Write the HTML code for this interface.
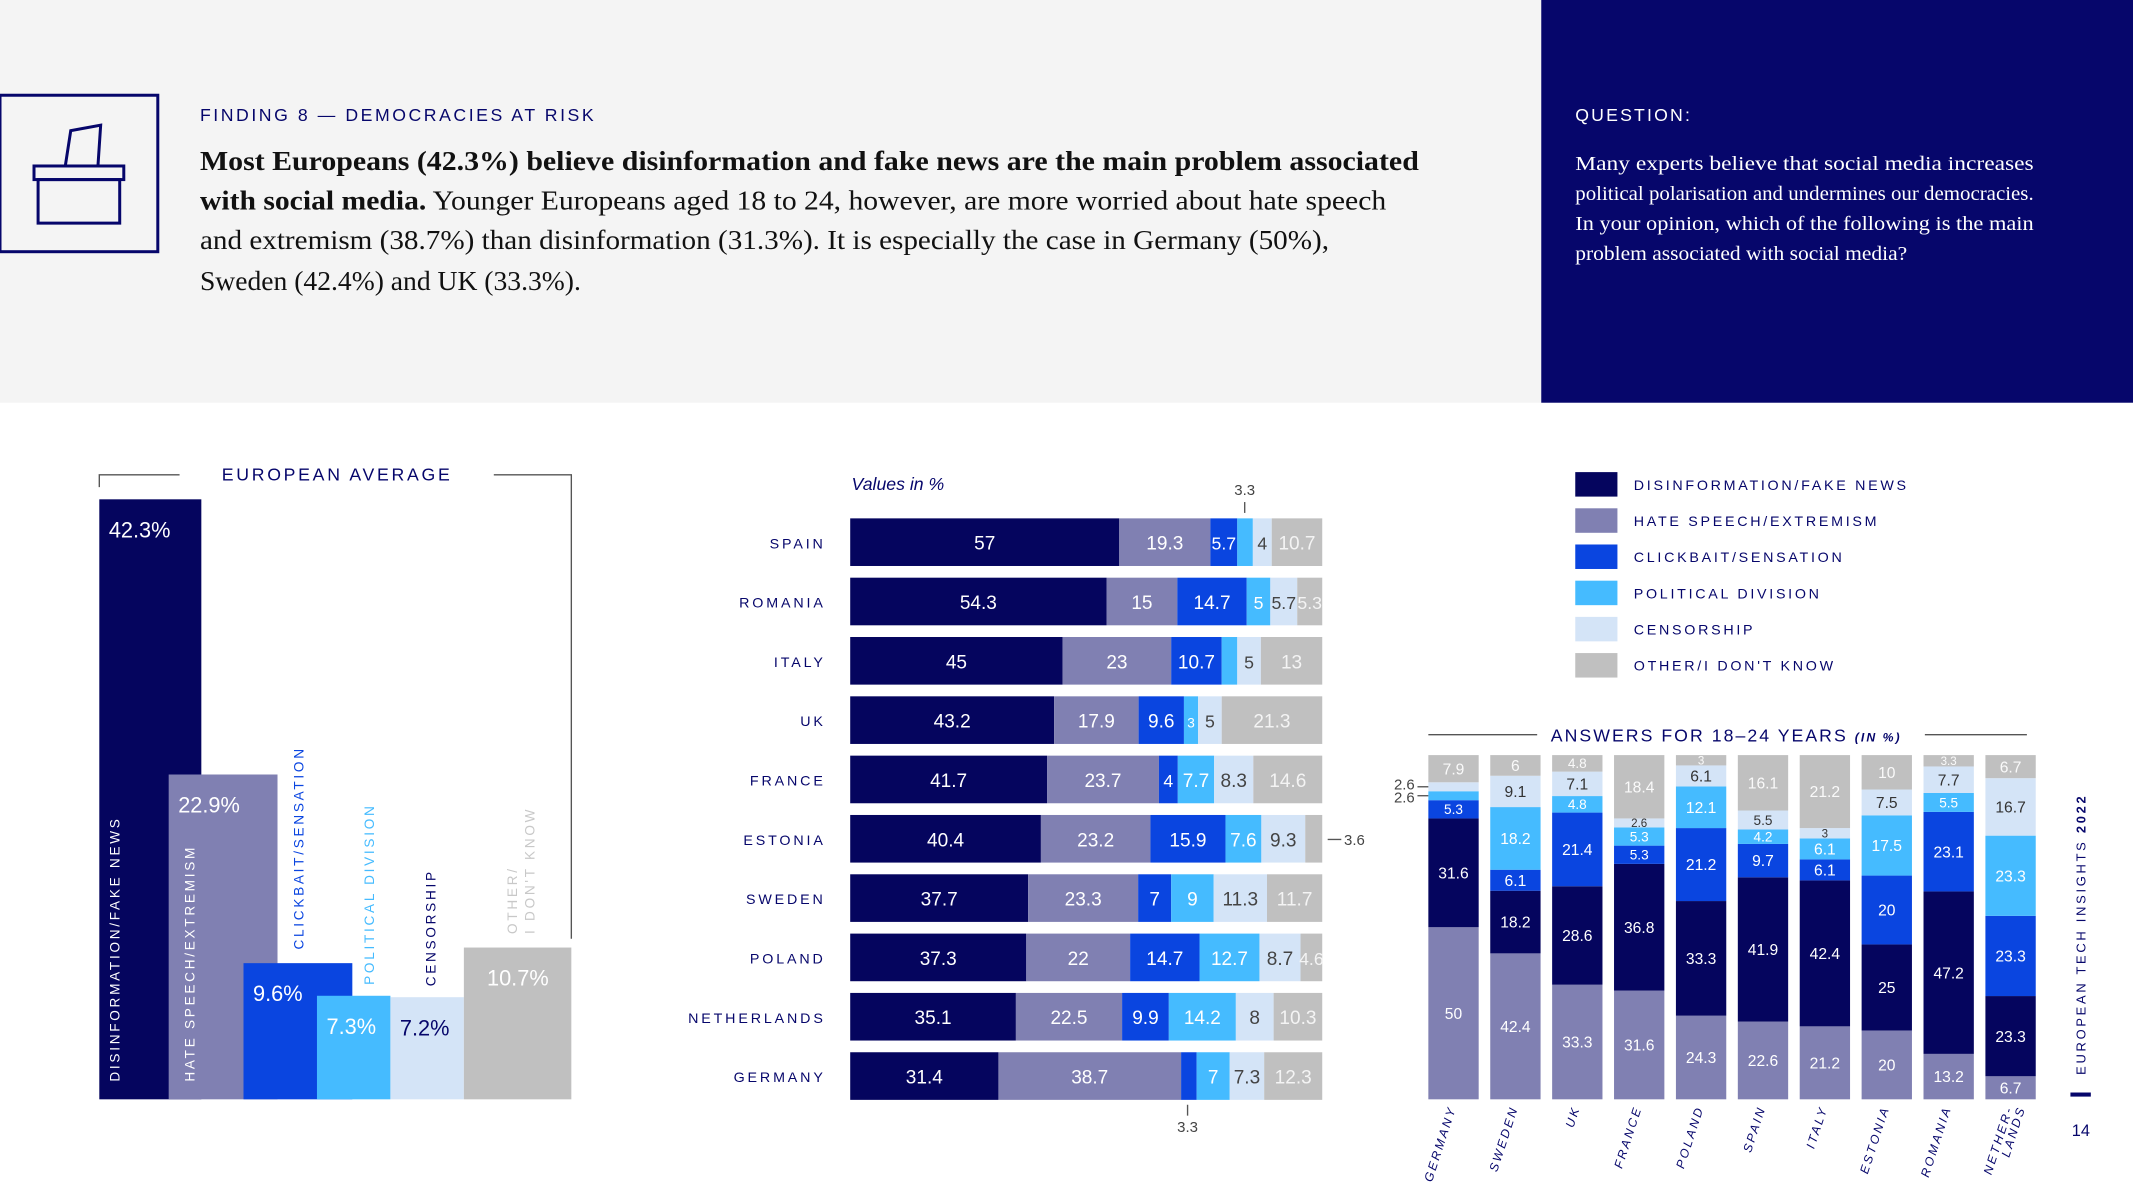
<!DOCTYPE html>
<html><head><meta charset="utf-8"><style>
html,body{margin:0;padding:0;background:#fff;}
svg{display:block;font-family:"Liberation Sans",sans-serif;}
.serif{font-family:"Liberation Serif",serif;}
</style></head><body>
<svg id="s" width="2133" height="1200" viewBox="0 0 1568 882" preserveAspectRatio="none" xmlns="http://www.w3.org/2000/svg">
<rect x="0" y="0" width="1133" height="296" fill="#f4f4f4"/>
<rect x="1133" y="0" width="435" height="296" fill="#06066b"/>
<g fill="none" stroke="#06066b" stroke-width="2.2">
<rect x="0" y="70" width="116" height="115"/>
<rect x="28" y="132" width="60" height="32"/>
<rect x="25" y="122" width="66" height="10"/>
<path d="M48 122 L52 96 L74 92 L72 122"/>
</g>
<text x="147" y="89" font-size="13" letter-spacing="1.6" textLength="291" fill="#06066b">FINDING 8 — DEMOCRACIES AT RISK</text>
<g class="serif" font-size="20" fill="#111">
<text x="147" y="125" font-weight="bold" textLength="896" lengthAdjust="spacingAndGlyphs">Most Europeans (42.3%) believe disinformation and fake news are the main problem associated</text>
<text x="147" y="154" textLength="872" lengthAdjust="spacingAndGlyphs"><tspan font-weight="bold">with social media.</tspan> Younger Europeans aged 18 to 24, however, are more worried about hate speech</text>
<text x="147" y="183" textLength="830" lengthAdjust="spacingAndGlyphs">and extremism (38.7%) than disinformation (31.3%). It is especially the case in Germany (50%),</text>
<text x="147" y="213" textLength="280" lengthAdjust="spacingAndGlyphs">Sweden (42.4%) and UK (33.3%).</text>
</g>
<text x="1158" y="89" font-size="13" letter-spacing="1.6" fill="#fff">QUESTION:</text>
<g class="serif" font-size="14.5" fill="#fff">
<text x="1158" y="125" textLength="337" lengthAdjust="spacingAndGlyphs">Many experts believe that social media increases</text>
<text x="1158" y="147" textLength="337" lengthAdjust="spacingAndGlyphs">political polarisation and undermines our democracies.</text>
<text x="1158" y="169" textLength="337" lengthAdjust="spacingAndGlyphs">In your opinion, which of the following is the main</text>
<text x="1158" y="191" textLength="244" lengthAdjust="spacingAndGlyphs">problem associated with social media?</text>
</g>
<g id="left"></g>
<g id="mid"></g>
<g id="right"></g>
<text transform="translate(1533,790) rotate(-90)" font-size="9.5" letter-spacing="2" fill="#06066b">EUROPEAN TECH INSIGHTS <tspan font-weight="bold">2022</tspan></text>
<rect x="1522" y="803" width="15" height="3" fill="#06066b"/>
<text x="1523" y="835" font-size="12" fill="#06066b">14</text>
</svg>
<script>
const NS="http://www.w3.org/2000/svg";
const COLORS=["#05055e","#8080b2","#0a45e0","#45bbff","#d4e4f7","#c0c0c0"];
const avgCats=["DISINFORMATION/FAKE NEWS","HATE SPEECH/EXTREMISM","CLICKBAIT/SENSATION","POLITICAL DIVISION","CENSORSHIP","OTHER/ I DON'T KNOW"];
const avgVals=[42.3,22.9,9.6,7.3,7.2,10.7];
const countries=["SPAIN","ROMANIA","ITALY","UK","FRANCE","ESTONIA","SWEDEN","POLAND","NETHERLANDS","GERMANY"];
const disinfo=[57,54.3,45,43.2,41.7,40.4,37.7,37.3,35.1,31.4];
const hate=[19.3,15,23,17.9,23.7,23.2,23.3,22,22.5,38.7];
const clickbait=[5.7,14.7,10.7,9.6,4,15.9,7,14.7,9.9,3.3];
const political=[3.3,5,3.3,3,7.7,7.6,9,12.7,14.2,7];
const censorship=[4,5.7,5,5,8.3,9.3,11.3,8.7,8,7.3];
const other=[10.7,5.3,13,21.3,14.6,3.6,11.7,4.6,10.3,12.3];
const yCountries=["GERMANY","SWEDEN","UK","FRANCE","POLAND","SPAIN","ITALY","ESTONIA","ROMANIA","NETHER-|LANDS"];
const yHate=[50,42.4,33.3,31.6,24.3,22.6,21.2,20,13.2,6.7];
const yDisinfo=[31.6,18.2,28.6,36.8,33.3,41.9,42.4,25,47.2,23.3];
const yClick=[5.3,6.1,21.4,5.3,21.2,9.7,6.1,20,23.1,23.3];
const yPol=[2.6,18.2,4.8,5.3,12.1,4.2,6.1,17.5,5.5,23.3];
const yCens=[2.6,9.1,7.1,2.6,6.1,5.5,3,7.5,7.7,16.7];
const yOther=[7.9,6,4.8,18.4,3,16.1,21.2,10,3.3,6.7];
const legendLabels=["DISINFORMATION/FAKE NEWS","HATE SPEECH/EXTREMISM","CLICKBAIT/SENSATION","POLITICAL DIVISION","CENSORSHIP","OTHER/I DON'T KNOW"];

function mk(tag,attrs,parent,txt){const e=document.createElementNS(NS,tag);for(const k in attrs)e.setAttribute(k,attrs[k]);if(txt!==undefined)e.textContent=txt;parent.appendChild(e);return e;}

// LEFT chart
const L=document.getElementById('left');
const lBase=808, lScale=441/42.3;
const lY=v=>lBase-v*lScale;
const lX=[73,124,179,233,287,341], lW=[75,80,80,54,54,79];
avgVals.forEach((v,i)=>{
 const r=mk('rect',{x:lX[i],y:lY(v),width:lW[i],height:lBase-lY(v),fill:COLORS[i]},L);
 
 
});
const lLabX=[80,131,186,240,294,358], lLabC=["#fff","#fff","#fff","#fff","#06066b","#fff"];
avgVals.forEach((v,i)=>{
 const t=mk('text',{x:lLabX[i],y:lY(v)+28,'font-size':16,fill:lLabC[i]},L,v+'%');
 
 
});
const catPos=[[88,795,"#fff"],[143,795,"#fff"],[223,lY(avgVals[2])-10,"#0a45e0"],[275,lY(avgVals[3])-8,"#45bbff"],[320,lY(avgVals[4])-8,"#06066b"]];
catPos.forEach((p,i)=>{
 const t=mk('text',{transform:`translate(${p[0]},${p[1]}) rotate(-90)`,'font-size':10,'letter-spacing':2,fill:p[2]},L,avgCats[i]);
 
 
});
{const y0=lY(avgVals[5])-10;
const t1=mk('text',{transform:`translate(380,${y0}) rotate(-90)`,'font-size':10,'letter-spacing':2,fill:"#c8c8c8"},L,"OTHER/");


const t2=mk('text',{transform:`translate(393,${y0}) rotate(-90)`,'font-size':10,'letter-spacing':2,fill:"#c8c8c8"},L,"I DON'T KNOW");

}
mk('path',{d:"M73 358 V349 H132 M363 349 H420 V690",fill:"none",stroke:"#555",'stroke-width':1},L);
const at=mk('text',{x:163,y:353,'font-size':13,'letter-spacing':2,fill:"#06066b"},L,"EUROPEAN AVERAGE");



// MIDDLE chart
const M=document.getElementById('mid');
const mX0=625, mW=347, rowY0=381, rowStep=43.6, rowH=35;
const mx=v=>mX0+v/100*mW;
const series=[disinfo,hate,clickbait,political,censorship,other];
const vt=mk('text',{x:626,y:360,'font-size':13,'font-style':'italic',fill:"#06066b"},M,"Values in %");


countries.forEach((c,r)=>{
 const y=rowY0+r*rowStep;
 const lab=mk('text',{x:607,y:y+22,'font-size':10.5,'letter-spacing':2.1,'text-anchor':'end',fill:"#06066b"},M,c);
 
 
 let acc=0;
 series.forEach((s,k)=>{
  const v=s[r];
  const seg=mk('rect',{x:mx(acc),y:y,width:mx(acc+v)-mx(acc),height:rowH,fill:COLORS[k]},M);
  
  
  const w=mx(acc+v)-mx(acc);
  if(v>=3 && !(v<3.5 && w<13 && k!==3) && !(k===3 && v===3.3) && !(k===5 && v<4)){
   const small=w<20;
   const col=k===4?"#444":(k===5?"#f4f4f4":"#fff");
   const t=mk('text',{x:(mx(acc)+mx(acc+v))/2,y:y+23,'font-size':small?(w<12?10:13):14,'text-anchor':'middle',fill:col},M,String(v));
   
   
  }
  acc+=v;
 });
});
mk('line',{x1:915,y1:369,x2:915,y2:377,stroke:"#555"},M);
mk('text',{x:915,y:364,'font-size':11,'text-anchor':'middle',fill:"#444"},M,"3.3");
mk('line',{x1:976,y1:617,x2:986,y2:617,stroke:"#555"},M);
mk('text',{x:988,y:621,'font-size':11,fill:"#444"},M,"3.6");
mk('line',{x1:873,y1:812,x2:873,y2:820,stroke:"#555"},M);
mk('text',{x:873,y:832,'font-size':11,'text-anchor':'middle',fill:"#444"},M,"3.3");

// RIGHT chart
const R=document.getElementById('right');
legendLabels.forEach((l,i)=>{
 const y=347+i*26.6;
 const sw=mk('rect',{x:1158,y:y,width:31,height:18,fill:COLORS[i]},R);
 
 
 const t=mk('text',{x:1201,y:y+13,'font-size':10.5,'letter-spacing':2,fill:"#06066b"},R,l);
 
 
});
mk('line',{x1:1050,y1:540,x2:1130,y2:540,stroke:"#555"},R);
mk('line',{x1:1415,y1:540,x2:1490,y2:540,stroke:"#555"},R);
const rt=mk('text',{x:1140,y:545,'font-size':13,'letter-spacing':1.5,fill:"#06066b"},R);


rt.innerHTML='ANSWERS FOR 18–24 YEARS <tspan font-size="9" font-style="italic" font-weight="bold">(IN %)</tspan>';
const cTop=555, cBot=808, cW=37, cX0=1050, cStep=45.5;
const cy=v=>cBot-v/100*(cBot-cTop);
const ySeries=[yHate,yDisinfo,yClick,yPol,yCens,yOther];
const yCol=[COLORS[1],COLORS[0],COLORS[2],COLORS[3],COLORS[4],COLORS[5]];
yCountries.forEach((c,i)=>{
 const x=cX0+i*cStep;
 let acc=0;
 ySeries.forEach((s,k)=>{
  const v=s[i];
  const seg=mk('rect',{x:x,y:cy(acc+v),width:cW,height:cy(acc)-cy(acc+v),fill:yCol[k]},R);
  
  
  const h=cy(acc)-cy(acc+v);
  if(!(i===0 && v===2.6)){
   const fs=h<9?8.5:(h<14?10:11.5);
   const col=k===4?"#333":(k===5?"#fafafa":"#fff");
   const t=mk('text',{x:x+cW/2,y:(cy(acc)+cy(acc+v))/2+fs*0.36,'font-size':fs,'text-anchor':'middle',fill:col},R,String(v));
   
   
  }
  acc+=v;
 });
 const parts=c.split('|');
 parts.forEach((p,j)=>{
  const t=mk('text',{transform:`translate(${x+cW/2+2+j*9},${814}) rotate(-72)`,'font-size':9,'font-style':'italic','letter-spacing':1.8,'text-anchor':'end',fill:"#06066b"},R,p);
  
  
 });
});
mk('line',{x1:1042,y1:cy(yHate[0]+yDisinfo[0]+yClick[0]+yPol[0]/2),x2:1050,y2:cy(yHate[0]+yDisinfo[0]+yClick[0]+yPol[0]/2),stroke:"#555"},R);
mk('line',{x1:1042,y1:cy(yHate[0]+yDisinfo[0]+yClick[0]+yPol[0]+yCens[0]/2),x2:1050,y2:cy(yHate[0]+yDisinfo[0]+yClick[0]+yPol[0]+yCens[0]/2),stroke:"#555"},R);
mk('text',{x:1040,y:cy(yHate[0]+yDisinfo[0]+yClick[0]+yPol[0]/2)+5,'font-size':11,'text-anchor':'end',fill:"#444"},R,"2.6");
mk('text',{x:1040,y:cy(yHate[0]+yDisinfo[0]+yClick[0]+yPol[0]+yCens[0]/2)+2,'font-size':11,'text-anchor':'end',fill:"#444"},R,"2.6");
</script>
</body></html>
